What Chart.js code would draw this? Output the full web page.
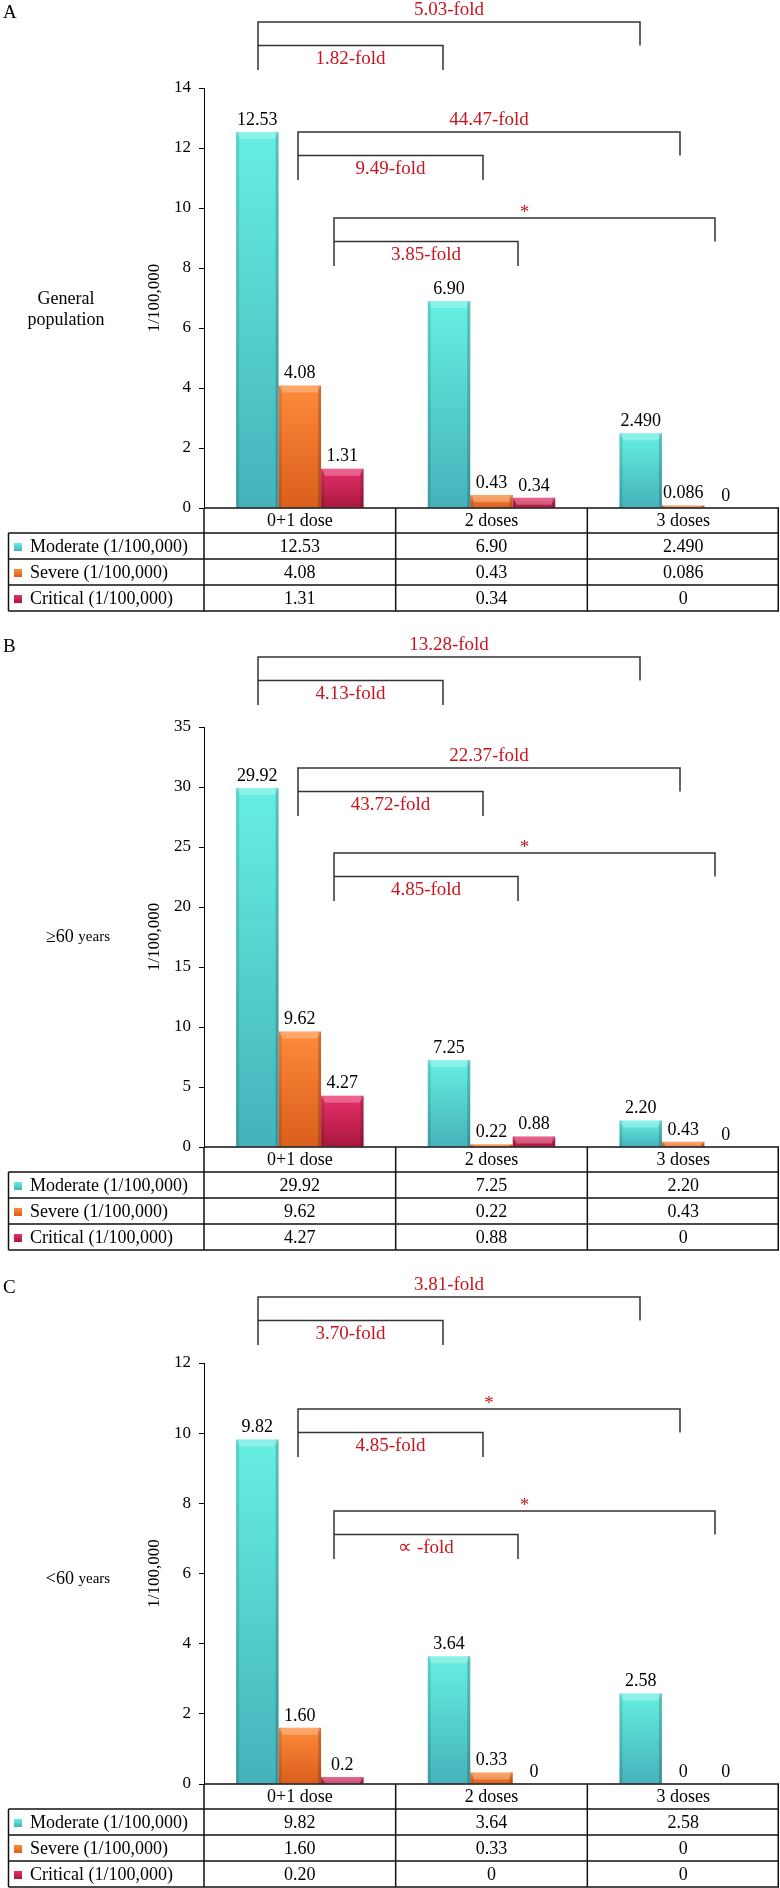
<!DOCTYPE html>
<html>
<head>
<meta charset="utf-8">
<script src="https://cdn.jsdelivr.net/npm/chart.js@4"></script>
<style>
  body { margin: 0; background: #fff; }
  .panel { position: absolute; left: 0; }
</style>
</head>
<body>
<div class="panel" style="top:0"><canvas id="cA" width="780" height="619"></canvas></div>
<div class="panel" style="top:619px"><canvas id="cB" width="780" height="636"></canvas></div>
<div class="panel" style="top:1255px"><canvas id="cC" width="780" height="633"></canvas></div>
<script>
const doses = ['0+1 dose', '2 doses', '3 doses']
const seriesNames = ['Moderate (1/100,000)', 'Severe (1/100,000)', 'Critical (1/100,000)']

// values as printed in the tables
const moderateA = ['12.53', '6.90', '2.490']
const severeA = ['4.08', '0.43', '0.086']
const criticalA = ['1.31', '0.34', '0']

const moderateB = ['29.92', '7.25', '2.20']
const severeB = ['9.62', '0.22', '0.43']
const criticalB = ['4.27', '0.88', '0']

const moderateC = ['9.82', '3.64', '2.58']
const severeC = ['1.60', '0.33', '0']
const criticalC = ['0.20', '0', '0']
const criticalBarTextC = ['0.2', '0', '0']  // label above the bar differs from the table

// y axis: max, step
const yAxisA = [14, 2]
const yAxisB = [35, 5]
const yAxisC = [12, 2]

// fold-change labels, pairs of (long bracket, short bracket)
const foldA = ['5.03-fold', '1.82-fold', '44.47-fold', '9.49-fold', '*', '3.85-fold']
const foldB = ['13.28-fold', '4.13-fold', '22.37-fold', '43.72-fold', '*', '4.85-fold']
const foldC = ['3.81-fold', '3.70-fold', '*', '4.85-fold', '*', '\u221D -fold']

const serif = '"Liberation Serif", "Times New Roman", serif'
const red = '#c8141e'
const barColors = [
    ['#66efe2', '#45b2bb'],
    ['#ff8a3a', '#d95e1c'],
    ['#e8306c', '#a8183c'],
]

function barGradient(g, top, bottom, k) {
    const gr = g.createLinearGradient(0, top, 0, bottom)
    gr.addColorStop(0, barColors[k][0])
    gr.addColorStop(1, barColors[k][1])
    return gr
}

function makePanel(id, p) {
    const plugin = {
        id: 'panel' + id,
        afterDatasetsDraw(chart) {
            const g = chart.ctx
            g.save()
            chart.data.datasets.forEach((ds, k) => {
                chart.getDatasetMeta(k).data.forEach((el, i) => {
                    const { x, y, base, width } = el.getProps(['x', 'y', 'base', 'width'], true)
                    const l = x - width / 2, r = x + width / 2, h = base - y
                    if (h > 2) {
                        g.fillStyle = 'rgba(0,0,0,0.12)'
                        g.fillRect(l, y, 3, h)
                        g.fillStyle = 'rgba(0,0,0,0.18)'
                        g.fillRect(r - 3, y, 3, h)
                        const cap = Math.min(7, h)
                        g.fillStyle = 'rgba(255,255,255,0.25)'
                        g.beginPath()
                        g.moveTo(l, y); g.lineTo(r, y)
                        g.lineTo(r - 4, y + cap); g.lineTo(l + 4, y + cap)
                        g.closePath(); g.fill()
                    }
                    g.fillStyle = '#000'
                    g.font = '18px ' + serif
                    g.textAlign = 'center'
                    g.textBaseline = 'bottom'
                    g.fillText(p.barText[k][i], x, y - 3)
                })
            })
            g.restore()
        },
        afterDraw(chart) {
            const g = chart.ctx
            const { left, right, top, bottom } = chart.chartArea
            const catW = (right - left) / 3
            g.save()

            // panel letter
            g.fillStyle = '#000'
            g.font = '19px ' + serif
            g.textAlign = 'left'
            g.textBaseline = 'middle'
            g.fillText(p.letter, 3, p.letterY)

            // group label on the left
            const cy = (top + bottom) / 2
            p.group.forEach((line, j) => {
                let w = 0
                line.forEach(([t, s]) => { g.font = s + 'px ' + serif; w += g.measureText(t).width })
                let x = p.groupX - w / 2
                line.forEach(([t, s]) => {
                    g.font = s + 'px ' + serif
                    g.fillText(t, x, cy + p.groupDy + j * 21)
                    x += g.measureText(t).width
                })
            })

            // y title
            g.save()
            g.translate(155, cy)
            g.rotate(-Math.PI / 2)
            g.textAlign = 'center'
            g.font = '17px ' + serif
            g.fillText('1/100,000', 0, 0)
            g.restore()

            // table
            const L = 8.5
            const ys = [bottom, bottom + 25, bottom + 51, bottom + 77, bottom + 103]
            g.strokeStyle = '#111'
            g.lineWidth = 1.5
            g.beginPath()
            g.moveTo(left, ys[0]); g.lineTo(right, ys[0])
            for (let r = 1; r < 5; r++) { g.moveTo(L, ys[r]); g.lineTo(right, ys[r]) }
            g.moveTo(L, ys[1]); g.lineTo(L, ys[4])
            for (let c = 0; c < 4; c++) {
                const x = Math.min(left + c * catW, right - 0.75)
                g.moveTo(x, ys[0]); g.lineTo(x, ys[4])
            }
            g.stroke()

            g.font = '18px ' + serif
            g.textBaseline = 'middle'
            g.textAlign = 'center'
            doses.forEach((d, i) => g.fillText(d, left + (i + 0.5) * catW, (ys[0] + ys[1]) / 2 + 1))
            p.series.forEach((vals, k) => {
                const my = (ys[k + 1] + ys[k + 2]) / 2 + 1
                g.fillStyle = barGradient(g, my - 4, my + 4, k)
                g.fillRect(14, my - 4, 8, 8)
                g.fillStyle = '#000'
                g.textAlign = 'left'
                g.fillText(seriesNames[k], 30, my)
                g.textAlign = 'center'
                vals.forEach((v, i) => g.fillText(v, left + (i + 0.5) * catW, my))
            })

            // fold-change brackets
            const legs = [[54, 239, 436], [94, 279, 476], [130, 314, 511]]
            g.strokeStyle = '#333'
            g.lineWidth = 1.5
            p.brackets.forEach((off, j) => {
                const y1 = top + off, y2 = y1 + 23.5, y3 = y1 + 48
                const [xl, xm, xr] = legs[j].map(v => left + v)
                g.beginPath()
                g.moveTo(xl, y3); g.lineTo(xl, y1); g.lineTo(xr, y1); g.lineTo(xr, y2)
                g.moveTo(xl, y2); g.lineTo(xm, y2); g.lineTo(xm, y3)
                g.stroke()
                const longT = p.folds[j * 2], shortT = p.folds[j * 2 + 1]
                g.fillStyle = red
                g.font = '19px ' + serif
                g.textAlign = 'center'
                g.textBaseline = 'middle'
                g.fillText(longT, (xl + xr) / 2, longT === '*' ? y1 - 5 : y1 - 12)
                g.fillText(shortT, (xl + xm) / 2, y2 + 14)
            })
            g.restore()
        }
    }

    const canvas = document.getElementById(id)
    new Chart(canvas, {
        type: 'bar',
        data: {
            labels: doses,
            datasets: p.series.map((vals, k) => ({
                label: seriesNames[k],
                data: vals,
                backgroundColor: c => {
                    const ch = c.chart
                    if (!ch.chartArea || c.type !== 'data') return barColors[k][0]
                    const ys = ch.scales.y
                    return barGradient(ch.ctx, ys.getPixelForValue(c.parsed.y), ys.getPixelForValue(0), k)
                },
                borderWidth: 0,
                categoryPercentage: 0.665,
                barPercentage: 1,
            }))
        },
        options: {
            responsive: false,
            animation: false,
            layout: {
                padding: { top: p.padTop, bottom: canvas.height - p.padTop - p.plotH, left: 0, right: 1 }
            },
            scales: {
                x: { display: false },
                y: {
                    min: 0,
                    max: p.yAxis[0],
                    afterFit: s => { s.width = 204 },
                    ticks: {
                        stepSize: p.yAxis[1],
                        color: '#000',
                        padding: 8,
                        font: { family: serif, size: 17 },
                    },
                    grid: {
                        drawOnChartArea: false,
                        tickLength: 5,
                        color: '#000',
                    },
                    border: { color: '#000', width: 1 },
                }
            },
            plugins: {
                legend: { display: false },
                tooltip: { enabled: false },
            }
        },
        plugins: [plugin]
    })
}

makePanel('cA', {
    letter: 'A',
    letterY: 13,
    group: [[['General', 18]], [['population', 18]]],
    groupX: 66,
    groupDy: 1,
    series: [moderateA, severeA, criticalA],
    barText: [moderateA, severeA, criticalA],
    yAxis: yAxisA,
    folds: foldA,
    brackets: [-66, 44, 130],
    padTop: 88,
    plotH: 420,
})

makePanel('cB', {
    letter: 'B',
    letterY: 28,
    group: [[['\u226560 ', 18], ['years', 15]]],
    groupX: 78,
    groupDy: 0,
    series: [moderateB, severeB, criticalB],
    barText: [moderateB, severeB, criticalB],
    yAxis: yAxisB,
    folds: foldB,
    brackets: [-70, 41, 126],
    padTop: 108,
    plotH: 420,
})

makePanel('cC', {
    letter: 'C',
    letterY: 33,
    group: [[['<60 ', 18], ['years', 15]]],
    groupX: 78,
    groupDy: 6,
    series: [moderateC, severeC, criticalC],
    barText: [moderateC, severeC, criticalBarTextC],
    yAxis: yAxisC,
    folds: foldC,
    brackets: [-66, 46, 148],
    padTop: 108,
    plotH: 421,
})
</script>
</body>
</html>
